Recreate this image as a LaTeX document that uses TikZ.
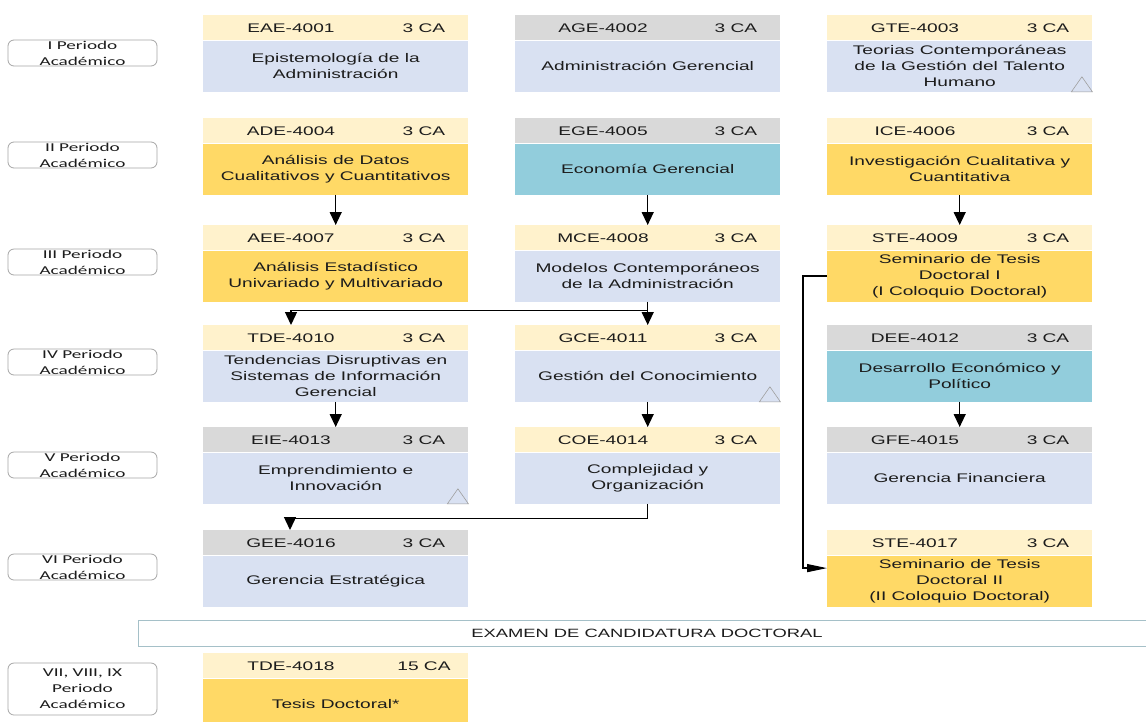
\documentclass[tikz,border=0pt]{standalone}
\usepackage{fontspec}
\setmainfont{Liberation Sans}[FakeStretch=1.53]
\newfontfamily\perfont{Carlito}[FakeStretch=1.6]
\usetikzlibrary{positioning,calc,arrows.meta}
\definecolor{encab}{HTML}{FFF2CC}
\definecolor{encabgris}{HTML}{D9D9D9}
\definecolor{azul}{HTML}{D9E1F2}
\definecolor{oro}{HTML}{FFD966}
\definecolor{turq}{HTML}{92CDDC}
\definecolor{texto}{HTML}{1C1C1C}
\definecolor{borde}{HTML}{A5C0C8}
\tikzset{hdr/.style={anchor=north west, minimum width=265pt, minimum height=25pt, inner sep=0pt, fill=encab}}
\tikzset{hdrg/.style={hdr, fill=encabgris}}
\tikzset{txt/.style={inner sep=0pt, text=texto, font=\fontsize{12.5}{16}\selectfont}}
\tikzset{cuerpo/.style={txt, minimum width=265pt, minimum height=51pt, align=center, fill=azul}}
\tikzset{cuerpoo/.style={cuerpo, fill=oro}}
\tikzset{cuerpot/.style={cuerpo, fill=turq}}
\tikzset{periodo/.style={draw=gray!70, line width=0.8pt, rounded corners=6pt, minimum width=149pt, minimum height=26pt, inner sep=0pt, align=center, text=texto, font=\perfont\fontsize{12}{16}\selectfont}}
\tikzset{examen/.style={draw=borde, line width=0.8pt, minimum width=1018pt, minimum height=26pt, inner sep=0pt, text=texto, font=\fontsize{12}{16}\selectfont}}
\tikzset{tri/.style={draw=gray!75, line width=0.6pt}}
\tikzset{arr1/.style={draw, -{Triangle[length=13pt,width=12pt]}, line width=1.3pt}}
\tikzset{arr2/.style={draw, -{Triangle[length=20pt,width=8pt]}, line width=1.3pt}}
% name, position, header style, body style, code, credits, title
\newcommand{\curso}[7]{%
  \node[#3] (#1h) at (#2) {};
  \node[#4, below=0pt of #1h] (#1b) {#7};
  \node[txt] (#1c) at ([xshift=88pt]#1h.west) {#5};
  \node[txt] (#1k) at ([xshift=221pt]#1h.west) {#6};
}
\newcommand{\marca}[1]{%
  \draw[tri] ([xshift=-21pt]#1b.south east) -- ++(10.5,-15) -- ++(10.5,15) -- cycle;
}
\begin{document}
\begin{tikzpicture}[x=1pt, y=-1pt]
  \fill[white] (0,0) rectangle (1146,721);
  \clip (0,0) rectangle (1146,721);
  % periodos
  \node[periodo] (p1) at (82.5,53) {I Periodo\\Académico};
  \node[periodo] (p2) at (82.5,155) {II Periodo\\Académico};
  \node[periodo] (p3) at (82.5,262) {III Periodo\\Académico};
  \node[periodo] (p4) at (82.5,362) {IV Periodo\\Académico};
  \node[periodo] (p5) at (82.5,465) {V Periodo\\Académico};
  \node[periodo] (p6) at (82.5,567) {VI Periodo\\Académico};
  \node[periodo, minimum height=52pt] (p7) at (82.5,689) {VII, VIII, IX\\Periodo\\Académico};
  % cursos
  \curso{EAE}{203,15}{hdr}{cuerpo}{EAE-4001}{3 CA}{Epistemología de la\\Administración}
  \curso{AGE}{515,15}{hdrg}{cuerpo}{AGE-4002}{3 CA}{Administración Gerencial}
  \curso{GTE}{827,15}{hdr}{cuerpo}{GTE-4003}{3 CA}{Teorias Contemporáneas\\de la Gestión del Talento\\Humano}
  \curso{ADE}{203,118}{hdr}{cuerpoo}{ADE-4004}{3 CA}{Análisis de Datos\\Cualitativos y Cuantitativos}
  \curso{EGE}{515,118}{hdrg}{cuerpot}{EGE-4005}{3 CA}{Economía Gerencial}
  \curso{ICE}{827,118}{hdr}{cuerpoo}{ICE-4006}{3 CA}{Investigación Cualitativa y\\Cuantitativa}
  \curso{AEE}{203,225}{hdr}{cuerpoo}{AEE-4007}{3 CA}{Análisis Estadístico\\Univariado y Multivariado}
  \curso{MCE}{515,225}{hdr}{cuerpo}{MCE-4008}{3 CA}{Modelos Contemporáneos\\de la Administración}
  \curso{STA}{827,225}{hdr}{cuerpoo}{STE-4009}{3 CA}{Seminario de Tesis\\Doctoral I\\(I Coloquio Doctoral)}
  \curso{TDA}{203,325}{hdr}{cuerpo}{TDE-4010}{3 CA}{Tendencias Disruptivas en\\Sistemas de Información\\Gerencial}
  \curso{GCE}{515,325}{hdr}{cuerpo}{GCE-4011}{3 CA}{Gestión del Conocimiento}
  \curso{DEE}{827,325}{hdrg}{cuerpot}{DEE-4012}{3 CA}{Desarrollo Económico y\\Político}
  \curso{EIE}{203,427}{hdrg}{cuerpo}{EIE-4013}{3 CA}{Emprendimiento e\\Innovación}
  \curso{COE}{515,427}{hdr}{cuerpo}{COE-4014}{3 CA}{Complejidad y\\Organización}
  \curso{GFE}{827,427}{hdrg}{cuerpo}{GFE-4015}{3 CA}{Gerencia Financiera}
  \curso{GEE}{203,530}{hdrg}{cuerpo}{GEE-4016}{3 CA}{Gerencia Estratégica}
  \curso{STB}{827,530}{hdr}{cuerpoo}{STE-4017}{3 CA}{Seminario de Tesis\\Doctoral II\\(II Coloquio Doctoral)}
  \curso{TDB}{203,653}{hdr}{cuerpoo}{TDE-4018}{15 CA}{Tesis Doctoral*}
  \marca{GTE}
  \marca{GCE}
  \marca{EIE}
  \node[examen] (exam) at (647,633) {EXAMEN DE CANDIDATURA DOCTORAL};
  % prerrequisitos
  \draw[arr1] (ADEb.south) -- (AEEh.north);
  \draw[arr1] (EGEb.south) -- (MCEh.north);
  \draw[arr1] (ICEb.south) -- (STAh.north);
  \draw[arr1] (MCEb.south) -- (GCEh.north);
  \draw[arr1] (MCEb.south) -- ++(0,9) -| ([xshift=88pt]TDAh.north west);
  \draw[arr1] (TDAb.south) -- (EIEh.north);
  \draw[arr1] (GCEb.south) -- (COEh.north);
  \draw[arr1] (DEEb.south) -- (GFEh.north);
  \draw[arr1] (COEb.south) -- ++(0,15) -| ([xshift=87pt]GEEh.north west);
  \draw[arr2] (STAb.west) -- ++(-24,0) |- ([yshift=13pt]STBb.west);
\end{tikzpicture}
\end{document}
